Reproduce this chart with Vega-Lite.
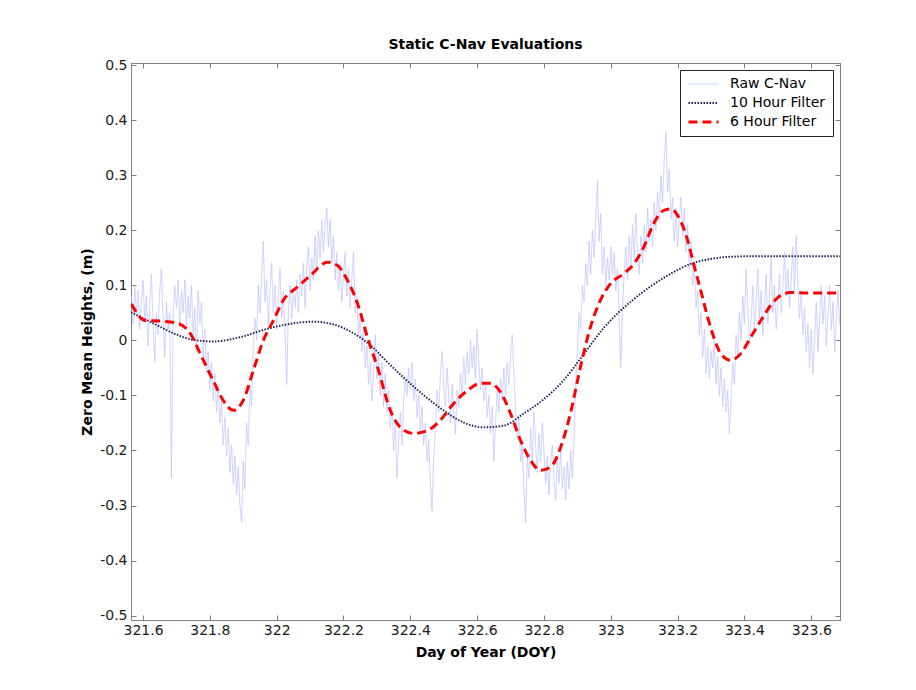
{
  "$schema": "https://vega.github.io/schema/vega-lite/v6.json",
  "width": 709,
  "height": 557,
  "autosize": {"type": "none"},
  "padding": {"left": 131, "top": 63, "right": 76, "bottom": 70},
  "background": "white",
  "title": {
    "text": "Static C-Nav Evaluations",
    "font": "DejaVu Sans",
    "fontSize": 14,
    "fontWeight": "bold",
    "color": "#000000",
    "anchor": "middle",
    "offset": 6
  },
  "datasets": {
    "raw": [
      {"d":321.565,"h":0.08},{"d":321.570,"h":0.03},{"d":321.575,"h":0.10},{"d":321.580,"h":0.05},{"d":321.585,"h":0.09},
      {"d":321.590,"h":0.02},{"d":321.595,"h":0.07},{"d":321.600,"h":0.11},{"d":321.605,"h":0.04},{"d":321.610,"h":0.08},
      {"d":321.615,"h":-0.01},{"d":321.620,"h":0.06},{"d":321.625,"h":0.12},{"d":321.630,"h":0.03},{"d":321.635,"h":-0.04},
      {"d":321.640,"h":0.05},{"d":321.645,"h":0.01},{"d":321.650,"h":0.09},{"d":321.655,"h":0.13},{"d":321.660,"h":0.04},
      {"d":321.665,"h":-0.03},{"d":321.670,"h":0.07},{"d":321.675,"h":0.02},{"d":321.680,"h":0.05},{"d":321.685,"h":-0.25},
      {"d":321.690,"h":0.04},{"d":321.695,"h":0.10},{"d":321.700,"h":0.06},{"d":321.705,"h":0.11},{"d":321.710,"h":0.03},
      {"d":321.715,"h":0.09},{"d":321.720,"h":0.05},{"d":321.725,"h":0.11},{"d":321.730,"h":0.02},{"d":321.735,"h":0.08},
      {"d":321.740,"h":0.04},{"d":321.745,"h":0.10},{"d":321.750,"h":0.01},{"d":321.755,"h":0.06},{"d":321.760,"h":-0.02},
      {"d":321.765,"h":0.09},{"d":321.770,"h":0.03},{"d":321.775,"h":0.07},{"d":321.780,"h":-0.03},{"d":321.785,"h":0.02},
      {"d":321.790,"h":-0.06},{"d":321.795,"h":-0.02},{"d":321.800,"h":-0.09},{"d":321.805,"h":-0.04},{"d":321.810,"h":-0.11},
      {"d":321.815,"h":-0.06},{"d":321.820,"h":-0.13},{"d":321.825,"h":-0.08},{"d":321.830,"h":-0.15},{"d":321.835,"h":-0.11},
      {"d":321.840,"h":-0.19},{"d":321.845,"h":-0.14},{"d":321.850,"h":-0.21},{"d":321.855,"h":-0.16},{"d":321.860,"h":-0.24},
      {"d":321.865,"h":-0.19},{"d":321.870,"h":-0.26},{"d":321.875,"h":-0.21},{"d":321.880,"h":-0.28},{"d":321.885,"h":-0.23},
      {"d":321.890,"h":-0.30},{"d":321.895,"h":-0.33},{"d":321.900,"h":-0.22},{"d":321.905,"h":-0.27},{"d":321.910,"h":-0.15},
      {"d":321.915,"h":-0.19},{"d":321.920,"h":-0.08},{"d":321.925,"h":-0.12},{"d":321.930,"h":-0.01},{"d":321.935,"h":0.04},
      {"d":321.940,"h":0.00},{"d":321.945,"h":0.10},{"d":321.950,"h":0.05},{"d":321.955,"h":0.12},{"d":321.960,"h":0.18},
      {"d":321.965,"h":0.07},{"d":321.970,"h":0.11},{"d":321.975,"h":0.03},{"d":321.980,"h":0.09},{"d":321.985,"h":0.14},
      {"d":321.990,"h":0.05},{"d":321.995,"h":0.10},{"d":322.000,"h":0.02},{"d":322.005,"h":0.08},{"d":322.010,"h":0.13},
      {"d":322.015,"h":0.04},{"d":322.020,"h":0.09},{"d":322.025,"h":0.01},{"d":322.030,"h":-0.08},{"d":322.035,"h":0.05},
      {"d":322.040,"h":0.10},{"d":322.045,"h":0.04},{"d":322.050,"h":0.09},{"d":322.055,"h":0.06},{"d":322.060,"h":0.11},
      {"d":322.065,"h":0.05},{"d":322.070,"h":0.12},{"d":322.075,"h":0.08},{"d":322.080,"h":0.14},{"d":322.085,"h":0.06},
      {"d":322.090,"h":0.13},{"d":322.095,"h":0.17},{"d":322.100,"h":0.09},{"d":322.105,"h":0.15},{"d":322.110,"h":0.11},
      {"d":322.115,"h":0.19},{"d":322.120,"h":0.13},{"d":322.125,"h":0.20},{"d":322.130,"h":0.15},{"d":322.135,"h":0.22},
      {"d":322.140,"h":0.16},{"d":322.145,"h":0.21},{"d":322.150,"h":0.24},{"d":322.155,"h":0.17},{"d":322.160,"h":0.22},
      {"d":322.165,"h":0.14},{"d":322.170,"h":0.19},{"d":322.175,"h":0.11},{"d":322.180,"h":0.16},{"d":322.185,"h":0.09},
      {"d":322.190,"h":0.14},{"d":322.195,"h":0.07},{"d":322.200,"h":0.12},{"d":322.205,"h":0.16},{"d":322.210,"h":0.08},
      {"d":322.215,"h":0.13},{"d":322.220,"h":0.06},{"d":322.225,"h":0.11},{"d":322.230,"h":0.16},{"d":322.235,"h":0.05},
      {"d":322.240,"h":0.08},{"d":322.245,"h":0.01},{"d":322.250,"h":0.04},{"d":322.255,"h":-0.02},{"d":322.260,"h":0.02},
      {"d":322.265,"h":-0.05},{"d":322.270,"h":-0.01},{"d":322.275,"h":-0.08},{"d":322.280,"h":-0.04},{"d":322.285,"h":-0.11},
      {"d":322.290,"h":-0.06},{"d":322.295,"h":0.01},{"d":322.300,"h":-0.07},{"d":322.305,"h":-0.02},{"d":322.310,"h":-0.10},
      {"d":322.315,"h":-0.04},{"d":322.320,"h":-0.12},{"d":322.325,"h":-0.06},{"d":322.330,"h":-0.13},{"d":322.335,"h":-0.09},
      {"d":322.340,"h":-0.16},{"d":322.345,"h":-0.12},{"d":322.350,"h":-0.20},{"d":322.355,"h":-0.15},{"d":322.360,"h":-0.25},
      {"d":322.365,"h":-0.18},{"d":322.370,"h":-0.13},{"d":322.375,"h":-0.19},{"d":322.380,"h":-0.11},{"d":322.385,"h":-0.07},
      {"d":322.390,"h":-0.10},{"d":322.395,"h":-0.05},{"d":322.400,"h":-0.09},{"d":322.405,"h":-0.04},{"d":322.410,"h":-0.11},
      {"d":322.415,"h":-0.07},{"d":322.420,"h":-0.14},{"d":322.425,"h":-0.10},{"d":322.430,"h":-0.17},{"d":322.435,"h":-0.12},
      {"d":322.440,"h":-0.19},{"d":322.445,"h":-0.15},{"d":322.450,"h":-0.22},{"d":322.455,"h":-0.18},{"d":322.460,"h":-0.26},
      {"d":322.465,"h":-0.31},{"d":322.470,"h":-0.21},{"d":322.475,"h":-0.16},{"d":322.480,"h":-0.09},{"d":322.485,"h":-0.13},
      {"d":322.490,"h":-0.06},{"d":322.495,"h":-0.02},{"d":322.500,"h":-0.08},{"d":322.505,"h":-0.12},{"d":322.510,"h":-0.05},
      {"d":322.515,"h":-0.10},{"d":322.520,"h":-0.15},{"d":322.525,"h":-0.08},{"d":322.530,"h":-0.13},{"d":322.535,"h":-0.17},
      {"d":322.540,"h":-0.09},{"d":322.545,"h":-0.12},{"d":322.550,"h":-0.06},{"d":322.555,"h":-0.10},{"d":322.560,"h":-0.03},
      {"d":322.565,"h":-0.08},{"d":322.570,"h":-0.02},{"d":322.575,"h":-0.06},{"d":322.580,"h":0.00},{"d":322.585,"h":-0.05},
      {"d":322.590,"h":-0.01},{"d":322.595,"h":-0.07},{"d":322.600,"h":0.02},{"d":322.605,"h":-0.04},{"d":322.610,"h":-0.09},
      {"d":322.615,"h":-0.05},{"d":322.620,"h":-0.11},{"d":322.625,"h":-0.08},{"d":322.630,"h":-0.14},{"d":322.635,"h":-0.10},
      {"d":322.640,"h":-0.17},{"d":322.645,"h":-0.12},{"d":322.650,"h":-0.22},{"d":322.655,"h":-0.15},{"d":322.660,"h":-0.09},
      {"d":322.665,"h":-0.13},{"d":322.670,"h":-0.07},{"d":322.675,"h":-0.11},{"d":322.680,"h":-0.05},{"d":322.685,"h":-0.10},
      {"d":322.690,"h":-0.04},{"d":322.695,"h":-0.08},{"d":322.700,"h":-0.03},{"d":322.705,"h":0.01},{"d":322.710,"h":-0.06},
      {"d":322.715,"h":-0.12},{"d":322.720,"h":-0.18},{"d":322.725,"h":-0.14},{"d":322.730,"h":-0.22},{"d":322.735,"h":-0.19},
      {"d":322.740,"h":-0.27},{"d":322.745,"h":-0.33},{"d":322.750,"h":-0.21},{"d":322.755,"h":-0.25},{"d":322.760,"h":-0.16},
      {"d":322.765,"h":-0.22},{"d":322.770,"h":-0.13},{"d":322.775,"h":-0.19},{"d":322.780,"h":-0.24},{"d":322.785,"h":-0.17},
      {"d":322.790,"h":-0.22},{"d":322.795,"h":-0.15},{"d":322.800,"h":-0.20},{"d":322.805,"h":-0.26},{"d":322.810,"h":-0.21},
      {"d":322.815,"h":-0.28},{"d":322.820,"h":-0.22},{"d":322.825,"h":-0.19},{"d":322.830,"h":-0.25},{"d":322.835,"h":-0.29},
      {"d":322.840,"h":-0.21},{"d":322.845,"h":-0.26},{"d":322.850,"h":-0.20},{"d":322.855,"h":-0.27},{"d":322.860,"h":-0.23},
      {"d":322.865,"h":-0.29},{"d":322.870,"h":-0.22},{"d":322.875,"h":-0.27},{"d":322.880,"h":-0.20},{"d":322.885,"h":-0.25},
      {"d":322.890,"h":-0.18},{"d":322.895,"h":-0.08},{"d":322.900,"h":-0.02},{"d":322.905,"h":0.05},{"d":322.910,"h":0.02},
      {"d":322.915,"h":0.10},{"d":322.920,"h":0.07},{"d":322.925,"h":0.14},{"d":322.930,"h":0.10},{"d":322.935,"h":0.18},
      {"d":322.940,"h":0.12},{"d":322.945,"h":0.20},{"d":322.950,"h":0.15},{"d":322.955,"h":0.22},{"d":322.960,"h":0.29},
      {"d":322.965,"h":0.18},{"d":322.970,"h":0.23},{"d":322.975,"h":0.12},{"d":322.980,"h":0.17},{"d":322.985,"h":0.10},
      {"d":322.990,"h":0.15},{"d":322.995,"h":0.11},{"d":323.000,"h":0.17},{"d":323.005,"h":0.12},{"d":323.010,"h":0.16},
      {"d":323.015,"h":0.09},{"d":323.020,"h":0.13},{"d":323.025,"h":0.04},{"d":323.030,"h":-0.05},{"d":323.035,"h":0.06},
      {"d":323.040,"h":0.12},{"d":323.045,"h":0.17},{"d":323.050,"h":0.11},{"d":323.055,"h":0.19},{"d":323.060,"h":0.13},
      {"d":323.065,"h":0.21},{"d":323.070,"h":0.15},{"d":323.075,"h":0.23},{"d":323.080,"h":0.16},{"d":323.085,"h":0.12},
      {"d":323.090,"h":0.19},{"d":323.095,"h":0.14},{"d":323.100,"h":0.21},{"d":323.105,"h":0.16},{"d":323.110,"h":0.24},
      {"d":323.115,"h":0.18},{"d":323.120,"h":0.22},{"d":323.125,"h":0.17},{"d":323.130,"h":0.25},{"d":323.135,"h":0.20},
      {"d":323.140,"h":0.27},{"d":323.145,"h":0.22},{"d":323.150,"h":0.30},{"d":323.155,"h":0.25},{"d":323.160,"h":0.33},
      {"d":323.165,"h":0.38},{"d":323.170,"h":0.27},{"d":323.175,"h":0.31},{"d":323.180,"h":0.22},{"d":323.185,"h":0.26},
      {"d":323.190,"h":0.18},{"d":323.195,"h":0.24},{"d":323.200,"h":0.17},{"d":323.205,"h":0.22},{"d":323.210,"h":0.26},
      {"d":323.215,"h":0.19},{"d":323.220,"h":0.24},{"d":323.225,"h":0.16},{"d":323.230,"h":0.21},{"d":323.235,"h":0.13},
      {"d":323.240,"h":0.18},{"d":323.245,"h":0.10},{"d":323.250,"h":0.14},{"d":323.255,"h":0.06},{"d":323.260,"h":0.09},
      {"d":323.265,"h":0.01},{"d":323.270,"h":0.05},{"d":323.275,"h":-0.03},{"d":323.280,"h":0.02},{"d":323.285,"h":-0.06},
      {"d":323.290,"h":-0.01},{"d":323.295,"h":-0.07},{"d":323.300,"h":-0.02},{"d":323.305,"h":-0.05},{"d":323.310,"h":0.00},
      {"d":323.315,"h":-0.08},{"d":323.320,"h":-0.03},{"d":323.325,"h":-0.10},{"d":323.330,"h":-0.05},{"d":323.335,"h":-0.12},
      {"d":323.340,"h":-0.07},{"d":323.345,"h":-0.13},{"d":323.350,"h":-0.09},{"d":323.355,"h":-0.17},{"d":323.360,"h":-0.11},
      {"d":323.365,"h":-0.04},{"d":323.370,"h":-0.08},{"d":323.375,"h":0.01},{"d":323.380,"h":-0.03},{"d":323.385,"h":0.05},
      {"d":323.390,"h":0.00},{"d":323.395,"h":0.08},{"d":323.400,"h":0.03},{"d":323.405,"h":0.13},{"d":323.410,"h":0.06},
      {"d":323.415,"h":-0.01},{"d":323.420,"h":0.04},{"d":323.425,"h":0.10},{"d":323.430,"h":0.02},{"d":323.435,"h":0.07},
      {"d":323.440,"h":0.13},{"d":323.445,"h":0.04},{"d":323.450,"h":0.09},{"d":323.455,"h":0.01},{"d":323.460,"h":0.06},
      {"d":323.465,"h":0.12},{"d":323.470,"h":0.03},{"d":323.475,"h":0.08},{"d":323.480,"h":0.15},{"d":323.485,"h":0.05},
      {"d":323.490,"h":0.10},{"d":323.495,"h":0.02},{"d":323.500,"h":0.07},{"d":323.505,"h":0.12},{"d":323.510,"h":0.05},
      {"d":323.515,"h":0.10},{"d":323.520,"h":0.16},{"d":323.525,"h":0.08},{"d":323.530,"h":0.13},{"d":323.535,"h":0.06},
      {"d":323.540,"h":0.11},{"d":323.545,"h":0.17},{"d":323.550,"h":0.09},{"d":323.555,"h":0.19},{"d":323.560,"h":0.10},
      {"d":323.565,"h":0.04},{"d":323.570,"h":0.09},{"d":323.575,"h":0.01},{"d":323.580,"h":0.06},{"d":323.585,"h":-0.02},
      {"d":323.590,"h":0.03},{"d":323.595,"h":-0.05},{"d":323.600,"h":0.02},{"d":323.605,"h":-0.06},{"d":323.610,"h":0.00},
      {"d":323.615,"h":0.07},{"d":323.620,"h":-0.02},{"d":323.625,"h":0.04},{"d":323.630,"h":0.10},{"d":323.635,"h":0.03},
      {"d":323.640,"h":0.08},{"d":323.645,"h":-0.01},{"d":323.650,"h":0.05},{"d":323.655,"h":0.10},{"d":323.660,"h":0.02},
      {"d":323.665,"h":0.07},{"d":323.670,"h":-0.02},{"d":323.675,"h":0.04},{"d":323.680,"h":0.09},{"d":323.685,"h":0.03}
    ],
    "f10": [
      {"d":321.564,"h":0.051},{"d":321.631,"h":0.031},{"d":321.691,"h":0.013},{"d":321.751,"h":0.001},
      {"d":321.810,"h":-0.002},{"d":321.891,"h":0.006},{"d":321.972,"h":0.021},{"d":322.050,"h":0.031},
      {"d":322.110,"h":0.034},{"d":322.170,"h":0.029},{"d":322.230,"h":0.013},{"d":322.290,"h":-0.014},
      {"d":322.319,"h":-0.032},{"d":322.379,"h":-0.067},{"d":322.439,"h":-0.099},{"d":322.499,"h":-0.127},
      {"d":322.559,"h":-0.149},{"d":322.619,"h":-0.158},{"d":322.679,"h":-0.155},{"d":322.739,"h":-0.133},
      {"d":322.799,"h":-0.107},{"d":322.858,"h":-0.073},{"d":322.918,"h":-0.026},{"d":322.978,"h":0.022},
      {"d":322.999,"h":0.036},{"d":323.059,"h":0.070},{"d":323.119,"h":0.098},{"d":323.179,"h":0.121},
      {"d":323.239,"h":0.139},{"d":323.299,"h":0.148},{"d":323.359,"h":0.152},{"d":323.440,"h":0.153},
      {"d":323.688,"h":0.153}
    ],
    "f6": [
      {"d":321.565,"h":0.066},{"d":321.607,"h":0.036},{"d":321.652,"h":0.035},{"d":321.703,"h":0.031},
      {"d":321.741,"h":0.013},{"d":321.771,"h":-0.024},{"d":321.810,"h":-0.073},{"d":321.840,"h":-0.109},
      {"d":321.870,"h":-0.127},{"d":321.900,"h":-0.109},{"d":321.930,"h":-0.055},{"d":321.960,"h":0.000},
      {"d":321.990,"h":0.036},{"d":322.020,"h":0.073},{"d":322.062,"h":0.097},{"d":322.101,"h":0.118},
      {"d":322.152,"h":0.142},{"d":322.182,"h":0.136},{"d":322.212,"h":0.109},{"d":322.242,"h":0.067},
      {"d":322.272,"h":0.005},{"d":322.302,"h":-0.049},{"d":322.340,"h":-0.127},{"d":322.370,"h":-0.158},
      {"d":322.409,"h":-0.169},{"d":322.451,"h":-0.164},{"d":322.490,"h":-0.145},{"d":322.529,"h":-0.115},
      {"d":322.571,"h":-0.091},{"d":322.610,"h":-0.078},{"d":322.640,"h":-0.078},{"d":322.670,"h":-0.094},
      {"d":322.700,"h":-0.133},{"d":322.730,"h":-0.182},{"d":322.760,"h":-0.218},{"d":322.790,"h":-0.236},
      {"d":322.820,"h":-0.230},{"d":322.850,"h":-0.194},{"d":322.879,"h":-0.133},{"d":322.909,"h":-0.049},
      {"d":322.939,"h":0.024},{"d":322.969,"h":0.073},{"d":322.999,"h":0.103},{"d":323.038,"h":0.121},
      {"d":323.069,"h":0.139},{"d":323.099,"h":0.170},{"d":323.128,"h":0.212},{"d":323.158,"h":0.236},
      {"d":323.179,"h":0.239},{"d":323.203,"h":0.224},{"d":323.230,"h":0.182},{"d":323.248,"h":0.139},
      {"d":323.269,"h":0.091},{"d":323.290,"h":0.042},{"d":323.308,"h":0.006},{"d":323.329,"h":-0.024},
      {"d":323.359,"h":-0.036},{"d":323.389,"h":-0.024},{"d":323.419,"h":0.006},{"d":323.449,"h":0.036},
      {"d":323.479,"h":0.064},{"d":323.509,"h":0.082},{"d":323.539,"h":0.087},{"d":323.589,"h":0.086},
      {"d":323.688,"h":0.086}
    ]
  },
  "layer": [
    {
      "data": {"name": "raw"},
      "mark": {"type": "line", "strokeWidth": 0.8, "clip": true},
      "encoding": {
        "x": {
          "field": "d", "type": "quantitative",
          "scale": {"domain": [321.564, 323.686], "nice": false, "zero": false},
          "axis": {
            "orient": "bottom",
            "title": "Day of Year (DOY)",
            "values": [321.6, 321.8, 322, 322.2, 322.4, 322.6, 322.8, 323, 323.2, 323.4, 323.6],
            "labelExpr": "'' + datum.value",
            "labelPadding": 8,
            "titlePadding": 8
          }
        },
        "y": {
          "field": "h", "type": "quantitative",
          "scale": {"domain": [-0.508, 0.504], "nice": false, "zero": false},
          "axis": {
            "orient": "left",
            "title": "Zero Mean Heights, (m)",
            "values": [-0.5, -0.4, -0.3, -0.2, -0.1, 0, 0.1, 0.2, 0.3, 0.4, 0.5],
            "labelExpr": "'' + datum.value",
            "titlePadding": 5
          }
        },
        "color": {"datum": "Raw C-Nav", "type": "nominal"},
        "strokeDash": {"datum": "Raw C-Nav", "type": "nominal"},
        "strokeWidth": {"datum": "Raw C-Nav", "type": "nominal"}
      }
    },
    {
      "data": {"name": "f10"},
      "mark": {"type": "line", "interpolate": "monotone", "clip": true},
      "encoding": {
        "x": {
          "field": "d", "type": "quantitative",
          "axis": {"orient": "top", "title": null, "labels": false,
                   "values": [321.6, 321.8, 322, 322.2, 322.4, 322.6, 322.8, 323, 323.2, 323.4, 323.6]}
        },
        "y": {
          "field": "h", "type": "quantitative",
          "axis": {"orient": "right", "title": null, "labels": false,
                   "values": [-0.5, -0.4, -0.3, -0.2, -0.1, 0, 0.1, 0.2, 0.3, 0.4, 0.5]}
        },
        "color": {"datum": "10 Hour Filter", "type": "nominal"},
        "strokeDash": {"datum": "10 Hour Filter", "type": "nominal"},
        "strokeWidth": {"datum": "10 Hour Filter", "type": "nominal"}
      }
    },
    {
      "data": {"name": "f6"},
      "mark": {"type": "line", "interpolate": "monotone", "clip": true},
      "encoding": {
        "x": {"field": "d", "type": "quantitative", "axis": null},
        "y": {"field": "h", "type": "quantitative", "axis": null},
        "color": {
          "datum": "6 Hour Filter", "type": "nominal",
          "scale": {"domain": ["Raw C-Nav", "10 Hour Filter", "6 Hour Filter"], "range": ["#bfc2ff", "#1e1e55", "#ff0000"]},
          "legend": {"title": null}
        },
        "strokeDash": {
          "datum": "6 Hour Filter", "type": "nominal",
          "scale": {"domain": ["Raw C-Nav", "10 Hour Filter", "6 Hour Filter"], "range": [[1, 0], [1.5, 1.5], [9, 5]]},
          "legend": {"title": null}
        },
        "strokeWidth": {
          "datum": "6 Hour Filter", "type": "nominal",
          "scale": {"domain": ["Raw C-Nav", "10 Hour Filter", "6 Hour Filter"], "range": [0.8, 3, 4]},
          "legend": {"title": null}
        }
      }
    }
  ],
  "resolve": {"axis": {"x": "independent", "y": "independent"}},
  "config": {
    "view": {"stroke": "#808080", "strokeWidth": 1},
    "axis": {
      "grid": false,
      "domainColor": "#808080",
      "tickColor": "#808080",
      "tickSize": -5,
      "labelFont": "DejaVu Sans",
      "labelFontSize": 14,
      "labelColor": "#1a1a1a",
      "labelPadding": 9,
      "titleFont": "DejaVu Sans",
      "titleFontSize": 14,
      "titleFontWeight": "bold",
      "titleColor": "#000000"
    },
    "legend": {
      "orient": "top-right",
      "offset": 7,
      "strokeColor": "#222222",
      "fillColor": "white",
      "padding": 7,
      "symbolType": "stroke",
      "symbolSize": 900,
      "clipHeight": 14,
      "labelFont": "DejaVu Sans",
      "labelFontSize": 14,
      "labelColor": "#000000",
      "labelOffset": 10,
      "rowPadding": 5
    }
  }
}
